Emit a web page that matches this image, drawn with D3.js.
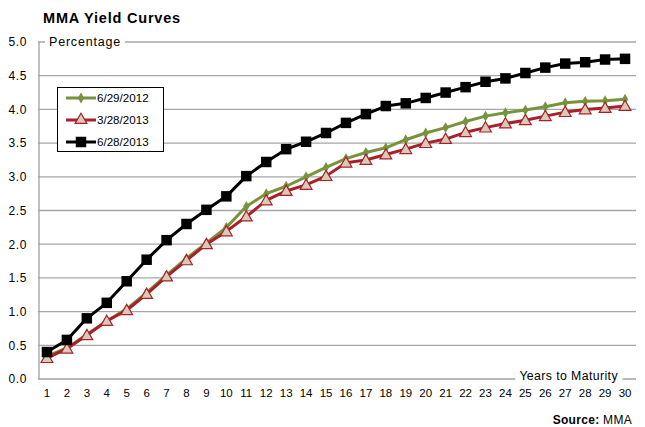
<!DOCTYPE html>
<html>
<head>
<meta charset="utf-8">
<script src="https://cdn.jsdelivr.net/npm/d3@7/dist/d3.min.js"></script>
<style>
  html, body { margin: 0; padding: 0; background: #fff; }
  svg { display: block; font-family: "Liberation Sans", Arial, sans-serif; }
</style>
</head>
<body>
<svg id="chart" width="645" height="427"></svg>
<script>
// Years to maturity
const years = d3.range(1, 31);

// Yield curves (percent)
const yields2012Jun = [0.34,0.46,0.66,0.86,1.04,1.28,1.54,1.79,2.02,2.25,2.56,2.75,2.86,3.00,3.14,3.27,3.36,3.43,3.55,3.65,3.73,3.82,3.90,3.95,3.99,4.04,4.10,4.12,4.13,4.15];
const yields2013Mar = [0.31,0.45,0.65,0.86,1.02,1.26,1.52,1.76,2.00,2.19,2.41,2.65,2.79,2.88,3.01,3.21,3.25,3.33,3.41,3.50,3.56,3.66,3.73,3.79,3.84,3.90,3.96,4.00,4.02,4.05];
const yields2013Jun = [0.40,0.58,0.90,1.13,1.45,1.77,2.06,2.30,2.51,2.71,3.01,3.22,3.41,3.52,3.65,3.80,3.93,4.05,4.09,4.17,4.25,4.33,4.41,4.46,4.54,4.62,4.68,4.70,4.74,4.75];

const seriesNames = ["6/29/2012", "3/28/2013", "6/28/2013"];
const yTicks = [0, 0.5, 1, 1.5, 2, 2.5, 3, 3.5, 4, 4.5, 5];

const series = [
  { name: seriesNames[0], values: yields2012Jun, color: "#77933C", marker: "diamond" },
  { name: seriesNames[1], values: yields2013Mar, color: "#A8202A", marker: "triangle" },
  { name: seriesNames[2], values: yields2013Jun, color: "#000000", marker: "square" }
];

const svg = d3.select("#chart");
const plot = { left: 38, right: 636, top: 42, bottom: 379 };

const x = d3.scaleBand().domain(years).range([plot.left - 1, plot.right - 1]);
const y = d3.scaleLinear().domain([0, 5]).range([plot.bottom, plot.top]);
const cx = d => x(d) + x.bandwidth() / 2;

// Title
svg.append("text").attr("x", 43).attr("y", 23)
  .attr("font-size", 14.5).attr("font-weight", "bold").attr("letter-spacing", 0.8)
  .attr("fill", "#000")
  .text("MMA Yield Curves");

// Horizontal gridlines
svg.append("g").selectAll("line").data(yTicks.filter(t => t > 0)).join("line")
  .attr("x1", plot.left).attr("x2", plot.right)
  .attr("y1", d => y(d)).attr("y2", d => y(d))
  .attr("stroke", "#a6a6a6").attr("stroke-width", 1.3);

// Y axis labels
const yAxis = d3.axisLeft(y).tickValues(yTicks).tickFormat(d3.format(".1f")).tickSize(0).tickPadding(11);
const gy = svg.append("g").attr("transform", `translate(${plot.left},0)`).call(yAxis);
gy.select(".domain").remove();
gy.selectAll("text").attr("font-size", 12).attr("letter-spacing", 0.6).attr("fill", "#000")
  .attr("font-family", "Liberation Sans, Arial, sans-serif");

// Y axis line
svg.append("line").attr("x1", plot.left + 1).attr("x2", plot.left + 1)
  .attr("y1", plot.top).attr("y2", plot.bottom)
  .attr("stroke", "#a0a0a0").attr("stroke-width", 1.3);

// X axis line
svg.append("line").attr("x1", plot.left).attr("x2", plot.right)
  .attr("y1", plot.bottom).attr("y2", plot.bottom)
  .attr("stroke", "#a0a0a0").attr("stroke-width", 1.3);

// X axis labels
const xAxis = d3.axisBottom(x).tickSize(0).tickPadding(10);
const gx = svg.append("g").attr("transform", `translate(0,${plot.bottom})`).call(xAxis);
gx.select(".domain").remove();
gx.selectAll("text").attr("font-size", 11.5).attr("fill", "#000")
  .attr("font-family", "Liberation Sans, Arial, sans-serif");

// Axis titles on white backing
function boxedLabel(tx, ty, str, anchor, size, spacing) {
  const g = svg.append("g");
  const t = g.append("text").attr("x", tx).attr("y", ty).attr("dy", "0.35em")
    .attr("font-size", size).attr("letter-spacing", spacing)
    .attr("fill", "#000").attr("text-anchor", anchor).text(str);
  const b = t.node().getBBox();
  g.insert("rect", "text").attr("x", b.x - 4).attr("y", b.y).attr("width", b.width + 8)
    .attr("height", b.height).attr("fill", "#fff");
}
boxedLabel(49, y(5), "Percentage", "start", 12.5, 0.8);
boxedLabel(618, y(0) - 3, "Years to Maturity", "end", 12.3, 0.4);

// Lines
const line = d3.line().x((d, i) => cx(years[i])).y(d => y(d));
const symbolOf = {
  diamond: d3.symbol().type(d3.symbolDiamond).size(34),
  triangle: d3.symbol().type(d3.symbolTriangle).size(60),
  square: d3.symbol().type(d3.symbolSquare).size(110)
};

function drawMarker(sel, s) {
  const p = sel.append("path").attr("d", symbolOf[s.marker]());
  if (s.marker === "triangle") {
    p.attr("fill", "#D8CAB6").attr("stroke", s.color).attr("stroke-width", 1.2);
  } else {
    p.attr("fill", s.color);
  }
  return p;
}

series.forEach(s => {
  const g = svg.append("g");
  g.append("path").datum(s.values).attr("d", line)
    .attr("fill", "none").attr("stroke", s.color).attr("stroke-width", 3)
    .attr("stroke-linejoin", "round");
  s.values.forEach((v, i) => {
    const m = g.append("g").attr("transform", `translate(${cx(years[i])},${y(v) + (s.marker === "triangle" ? 1 : 0)})`);
    drawMarker(m, s);
  });
});

// Legend
const lg = svg.append("g");
lg.append("rect").attr("x", 57.5).attr("y", 87.5).attr("width", 106).attr("height", 64)
  .attr("fill", "#fff").attr("stroke", "#000").attr("stroke-width", 1);
const legendY = [98, 120, 142];
series.forEach((s, i) => {
  const yy = legendY[i];
  lg.append("line").attr("x1", 66).attr("x2", 96).attr("y1", yy).attr("y2", yy)
    .attr("stroke", s.color).attr("stroke-width", 3);
  const m = lg.append("g").attr("transform", `translate(81,${yy})`);
  drawMarker(m, s);
  lg.append("text").attr("x", 97).attr("y", yy).attr("dy", "0.35em")
    .attr("font-size", 11.6).attr("fill", "#000").text(s.name);
});

// Source note
const src = svg.append("text").attr("x", 632).attr("y", 424).attr("text-anchor", "end")
  .attr("font-size", 12).attr("letter-spacing", 0.3).attr("fill", "#000");
src.append("tspan").attr("font-weight", "bold").text("Source: ");
src.append("tspan").text("MMA");
</script>
</body>
</html>
